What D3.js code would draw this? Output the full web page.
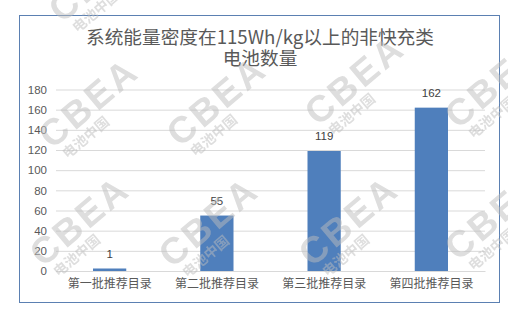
<!DOCTYPE html>
<html>
<head>
<meta charset="utf-8">
<script src="https://cdn.jsdelivr.net/npm/d3@7"></script>
<style>
  body { margin: 0; background: #fff; }
  svg { display: block; }
</style>
</head>
<body>
<svg id="drawing_region"></svg>
<script>
// data
const categories = ['第一批推荐目录', '第二批推荐目录', '第三批推荐目录', '第四批推荐目录'];
const counts = [1, 55, 119, 162];
const yticks = [0, 20, 40, 60, 80, 100, 120, 140, 160, 180];
const titleLines = ['系统能量密度在115Wh/kg以上的非快充类', '电池数量'];
const markText = ['CBEA', '电池中国'];

const config = {
    width: 508,
    height: 315,
    margin: {top: 89.5, right: 23, bottom: 44, left: 56}
};

const font = '"Noto Sans CJK SC", "Noto Sans", sans-serif';
const numFont = '"Liberation Sans", Arial, sans-serif';

const svg = d3.select('#drawing_region')
    .attr('width', config.width)
    .attr('height', config.height);

const inner_width = config.width - config.margin.left - config.margin.right;
const inner_height = config.height - config.margin.top - config.margin.bottom;

// chart frame
svg.append('rect')
    .attr('x', 19.5).attr('y', 15.5)
    .attr('width', 480).attr('height', 287)
    .attr('fill', '#fff')
    .attr('stroke', '#5b80b2')
    .attr('stroke-width', 1);

// title (one text, two lines)
svg.append('text')
    .attr('text-anchor', 'middle')
    .attr('font-family', font)
    .attr('font-size', 18.67)
    .attr('fill', '#595959')
    .selectAll('tspan')
    .data(titleLines)
    .join('tspan')
    .attr('x', 260)
    .attr('y', (d, i) => 44 + i * 21)
    .text(d => d);

const chart = svg.append('g')
    .attr('transform', `translate(${config.margin.left}, ${config.margin.top})`);

const xscale = d3.scaleBand()
    .domain(categories)
    .range([0, inner_width])
    .paddingInner(0.69)
    .paddingOuter(0.345);

const yscale = d3.scaleLinear()
    .domain([0, 180])
    .range([inner_height, 0]);

// grid lines
const yaxis = d3.axisLeft(yscale)
    .tickValues(yticks)
    .tickSize(-inner_width)
    .tickPadding(9);

const yaxis_group = chart.append('g').call(yaxis);
yaxis_group.select('.domain').remove();
yaxis_group.selectAll('.tick line')
    .attr('stroke', '#d9d9d9');
yaxis_group.selectAll('.tick text')
    .attr('font-family', numFont)
    .attr('font-size', 11.5)
    .attr('fill', '#595959');

// x axis (category labels)
const xaxis = d3.axisBottom(xscale)
    .tickSize(0)
    .tickPadding(8);

const xaxis_group = chart.append('g')
    .attr('transform', `translate(0, ${inner_height})`)
    .call(xaxis);
xaxis_group.select('.domain')
    .attr('stroke', '#d9d9d9');
xaxis_group.selectAll('.tick text')
    .attr('font-family', font)
    .attr('font-size', 12)
    .attr('fill', '#595959');

// bars
chart.selectAll('rect.bar')
    .data(counts)
    .join('rect')
    .attr('class', 'bar')
    .attr('x', (d, i) => xscale(categories[i]))
    .attr('y', d => Math.min(yscale(d), inner_height - 2.5))
    .attr('width', xscale.bandwidth())
    .attr('height', d => Math.max(inner_height - yscale(d), 2.5))
    .attr('fill', '#4f7fbc');

// value labels
chart.selectAll('text.label')
    .data(counts)
    .join('text')
    .attr('class', 'label')
    .attr('x', (d, i) => xscale(categories[i]) + xscale.bandwidth() / 2)
    .attr('y', d => Math.min(yscale(d), inner_height - 2.5) - 15)
    .attr('text-anchor', 'middle')
    .attr('dominant-baseline', 'central')
    .attr('font-family', numFont)
    .attr('font-size', 11.5)
    .attr('fill', '#404040')
    .text(d => d);

// watermark logos (lower-left corner of each)
const marks = [
    [62, 24],
    [52, 150], [180, 148], [318, 127], [458, 130],
    [43, 268], [172, 269], [312, 268], [458, 262]
];

const wm = svg.append('g')
    .attr('pointer-events', 'none')
    .attr('fill', '#bdbdbd')
    .attr('opacity', 0.5);

const wmg = wm.selectAll('g')
    .data(marks)
    .join('g')
    .attr('transform', d => `translate(${d[0]}, ${d[1]}) rotate(-40)`);

wmg.append('text')
    .attr('x', 0).attr('y', 0)
    .attr('font-family', numFont)
    .attr('font-weight', 'bold')
    .attr('font-size', 37)
    .attr('letter-spacing', 3)
    .text(markText[0]);

wmg.append('text')
    .attr('x', 6).attr('y', 17)
    .attr('font-family', font)
    .attr('font-weight', 'bold')
    .attr('font-size', 14)
    .text(markText[1]);
</script>
</body>
</html>
